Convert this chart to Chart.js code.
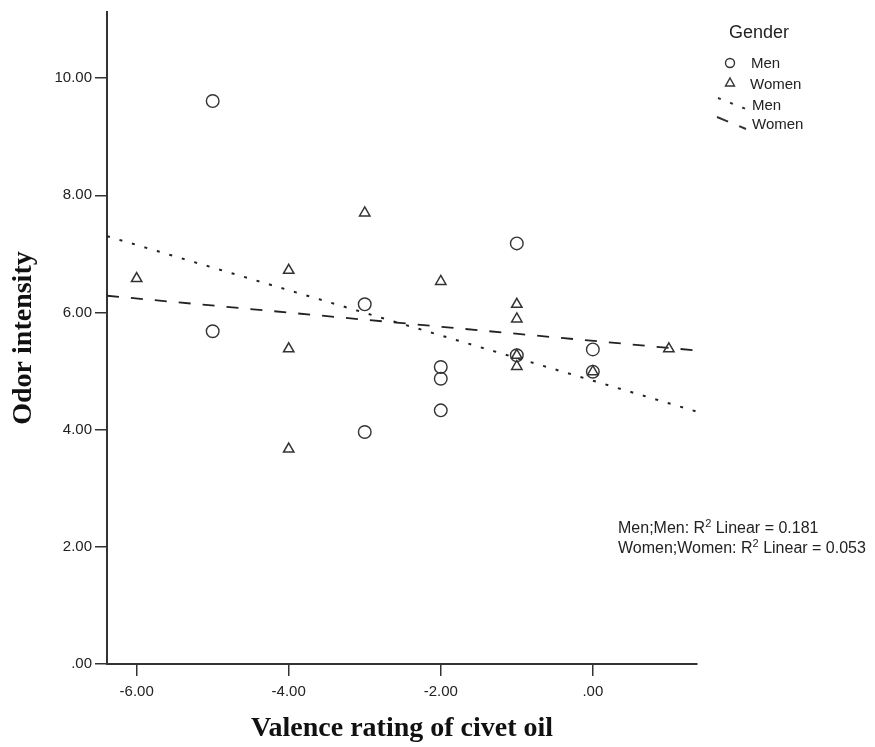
<!DOCTYPE html>
<html>
<head>
<meta charset="utf-8">
<script src="https://cdn.jsdelivr.net/npm/chart.js@4/dist/chart.umd.min.js"></script>
<style>
  body { margin: 0; background: #fff; }
  #grafico { display: block; }
</style>
</head>
<body>
<canvas id="grafico" width="875" height="747"></canvas>
<script>
/* =========================
   DATOS
========================= */

const xTicks = [-6, -4, -2, 0];
const yTicks = [0, 2, 4, 6, 8, 10];

const menX = [-5, -5, -3, -3, -2, -2, -2, -1, -1, 0, 0];
const menY = [9.61, 5.68, 6.14, 3.96, 5.07, 4.87, 4.33, 7.18, 5.27, 5.37, 4.99];

const womenX = [-6, -4, -4, -4, -3, -2, -1, -1, -1, -1, 0, 1];
const womenY = [6.58, 6.72, 5.38, 3.67, 7.70, 6.53, 6.14, 5.89, 5.27, 5.08, 4.99, 5.38];

const r2Lines = [
  ["Men;Men: R", "2", " Linear = 0.181"],
  ["Women;Women: R", "2", " Linear = 0.053"]
];

const X_MIN = -6.39;
const X_MAX = 1.37;
const Y_MAX = 11.13;

const INK = "#333";
const SANS = "'Liberation Sans', Arial, sans-serif";
const SERIF = "'Liberation Serif', 'Times New Roman', serif";

/* =========================
   AJUSTE LINEAL
========================= */

function ajuste(xs, ys) {
  const n = xs.length;
  const mx = xs.reduce((a, b) => a + b, 0) / n;
  const my = ys.reduce((a, b) => a + b, 0) / n;
  let sxy = 0, sxx = 0;
  xs.forEach((x, i) => {
    sxy += (x - mx) * (ys[i] - my);
    sxx += (x - mx) * (x - mx);
  });
  const b = sxy / sxx;
  const a = my - b * mx;
  return [X_MIN, X_MAX].map(x => ({ x, y: a + b * x }));
}

const puntos = (xs, ys) => xs.map((x, i) => ({ x, y: ys[i] }));

// "0.00" -> ".00", "-6.00" se queda igual
const fmt = v => v.toFixed(2).replace(/^(-?)0\./, "$1.");

/* =========================
   LEYENDA Y TEXTO R2
========================= */

const leyenda = {
  id: "leyenda",
  afterDraw(chart) {
    const ctx = chart.ctx;
    ctx.save();
    ctx.fillStyle = "#222";
    ctx.strokeStyle = INK;
    ctx.textBaseline = "middle";
    ctx.textAlign = "left";

    ctx.font = "18px " + SANS;
    ctx.fillText("Gender", 729, 33);

    ctx.font = "15px " + SANS;
    ctx.lineWidth = 1.4;
    ctx.beginPath();
    ctx.arc(730, 63, 4.5, 0, Math.PI * 2);
    ctx.stroke();
    ctx.fillText("Men", 751, 64);

    ctx.beginPath();
    ctx.moveTo(730, 78);
    ctx.lineTo(734.5, 86);
    ctx.lineTo(725.5, 86);
    ctx.closePath();
    ctx.stroke();
    ctx.fillText("Women", 750, 85);

    ctx.lineWidth = 2;
    ctx.setLineDash([3, 10]);
    ctx.beginPath();
    ctx.moveTo(718, 98);
    ctx.lineTo(746, 109);
    ctx.stroke();
    ctx.fillText("Men", 752, 106);

    ctx.setLineDash([12, 12]);
    ctx.beginPath();
    ctx.moveTo(717, 117);
    ctx.lineTo(746, 129);
    ctx.stroke();
    ctx.setLineDash([]);
    ctx.fillText("Women", 752, 125);

    // R2 lineal, con el 2 en superindice
    r2Lines.forEach((partes, i) => {
      const y = 529 + i * 20;
      let x = 618;
      ctx.font = "16px " + SANS;
      ctx.fillText(partes[0], x, y);
      x += ctx.measureText(partes[0]).width;
      ctx.font = "11px " + SANS;
      ctx.fillText(partes[1], x, y - 5);
      x += ctx.measureText(partes[1]).width;
      ctx.font = "16px " + SANS;
      ctx.fillText(partes[2], x, y);
    });

    ctx.restore();
  }
};

/* =========================
   GRAFICO
========================= */

const ejeComun = {
  grid: { display: true, drawOnChartArea: false, drawTicks: true, tickLength: 12, color: INK, lineWidth: 1.5 },
  border: { display: true, color: INK, width: 2 },
  ticks: { color: "#222", font: { family: SANS, size: 15 }, callback: v => fmt(v) }
};

new Chart(document.getElementById("grafico"), {
  type: "scatter",
  data: {
    datasets: [
      {
        label: "Men",
        data: puntos(menX, menY),
        pointStyle: "circle",
        pointRadius: 6.3,
        borderColor: INK,
        backgroundColor: "transparent",
        borderWidth: 1.4
      },
      {
        label: "Women",
        data: puntos(womenX, womenY),
        pointStyle: "triangle",
        pointRadius: 6,
        borderColor: INK,
        backgroundColor: "transparent",
        borderWidth: 1.5
      },
      {
        label: "Men fit",
        data: ajuste(menX, menY),
        showLine: true,
        pointRadius: 0,
        borderColor: "#222",
        borderWidth: 2,
        borderDash: [3, 10]
      },
      {
        label: "Women fit",
        data: ajuste(womenX, womenY),
        showLine: true,
        pointRadius: 0,
        borderColor: "#222",
        borderWidth: 1.8,
        borderDash: [12, 12]
      }
    ]
  },
  options: {
    responsive: false,
    animation: false,
    layout: { padding: { left: 0, top: 12, right: 178, bottom: 0 } },
    plugins: { legend: { display: false }, tooltip: { enabled: false } },
    scales: {
      x: {
        ...ejeComun,
        type: "linear",
        min: X_MIN,
        max: X_MAX,
        ticks: { ...ejeComun.ticks, padding: 7, maxRotation: 0 },
        afterBuildTicks: s => { s.ticks = xTicks.map(v => ({ value: v })); },
        afterFit: s => { s.height = 83; },
        title: {
          display: true,
          text: "Valence rating of civet oil",
          color: "#111",
          font: { family: SERIF, size: 28, weight: "bold" },
          padding: { top: 0, bottom: 1 }
        }
      },
      y: {
        ...ejeComun,
        type: "linear",
        min: 0,
        max: Y_MAX,
        ticks: { ...ejeComun.ticks, padding: 3 },
        afterBuildTicks: s => { s.ticks = yTicks.map(v => ({ value: v })); },
        afterFit: s => { s.width = 107; },
        title: {
          display: true,
          text: "Odor intensity",
          color: "#111",
          font: { family: SERIF, size: 28, weight: "bold" },
          padding: { top: 7, bottom: 0 }
        }
      }
    }
  },
  plugins: [leyenda]
});
</script>
</body>
</html>
